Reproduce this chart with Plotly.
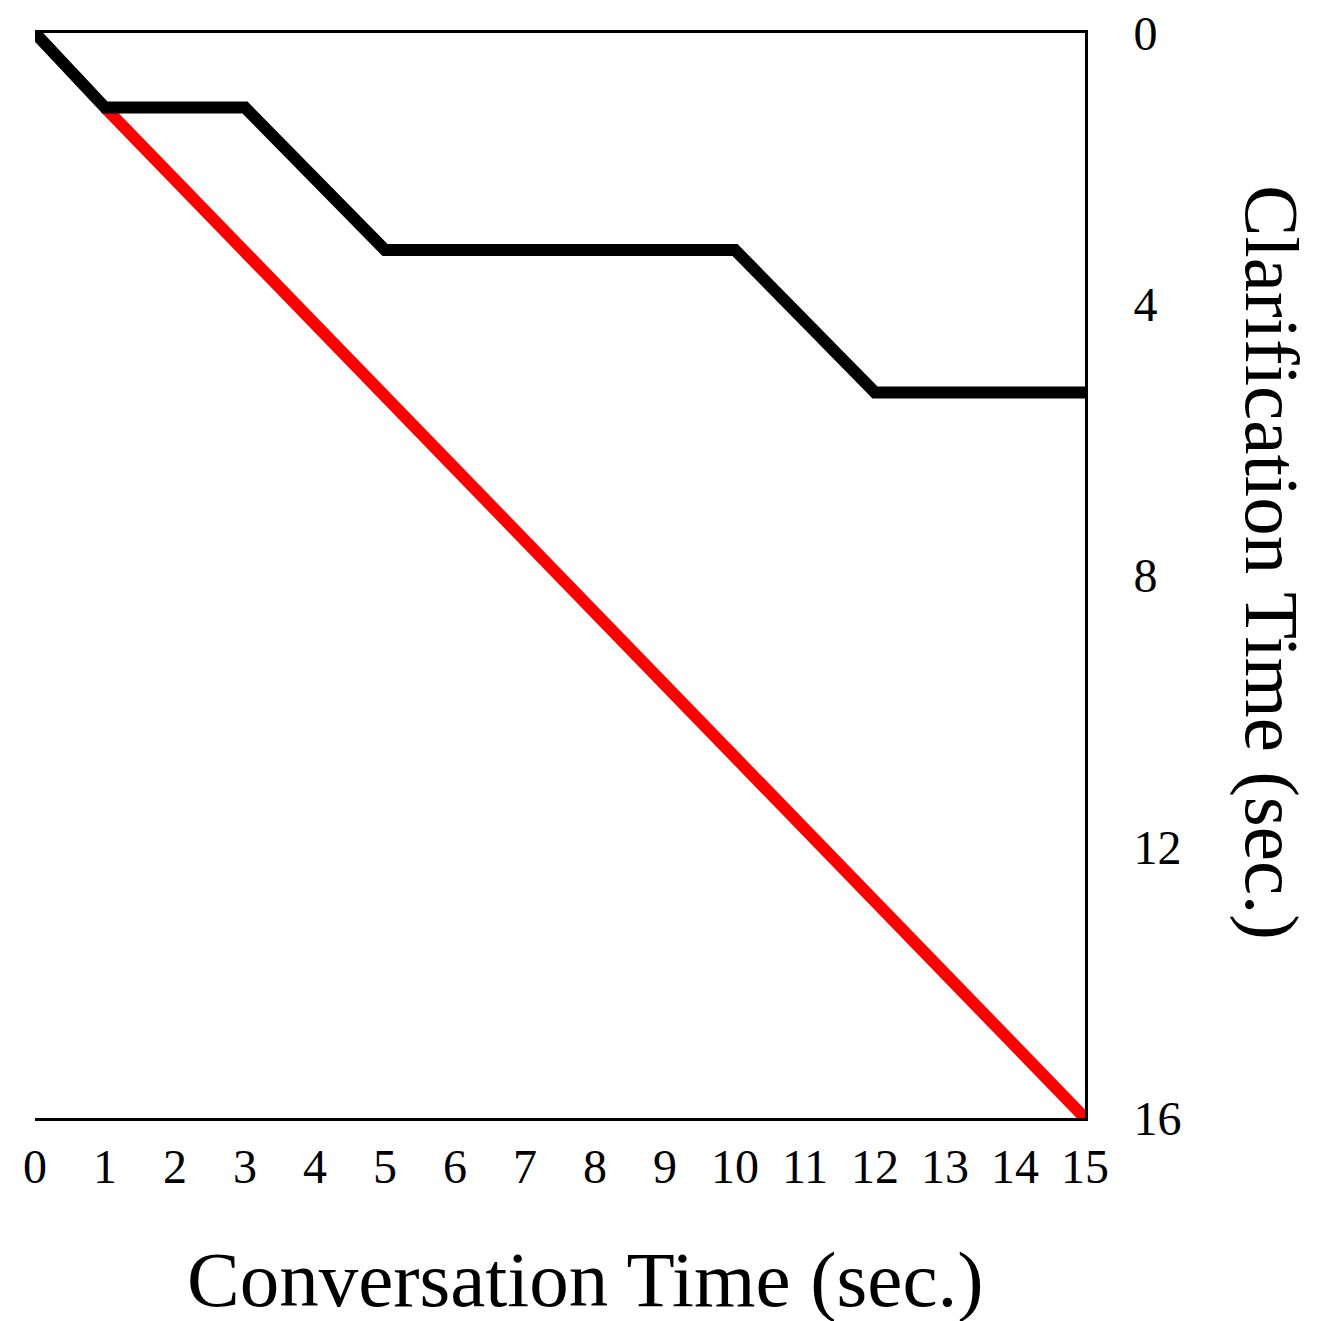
import plotly.graph_objects as go

# Data
black_x = [0, 1, 3, 5, 10, 12, 15]
black_y = [0, 1.1, 1.1, 3.2, 3.2, 5.3, 5.3]
red_x = [1, 15]
red_y = [1.1, 16]

x_ticks = list(range(0, 16))
y_ticks = [0, 4, 8, 12, 16]

FONT = "Liberation Serif"

fig = go.Figure()
fig.add_trace(go.Scatter(x=red_x, y=red_y, mode="lines",
                         line=dict(color="#ff0000", width=12),
                         cliponaxis=False, showlegend=False))
fig.add_trace(go.Scatter(x=black_x, y=black_y, mode="lines",
                         line=dict(color="#000000", width=12),
                         cliponaxis=False, showlegend=False))

fig.update_layout(
    width=1306, height=1316,
    margin=dict(l=27, r=229, t=25, b=206),
    paper_bgcolor="white", plot_bgcolor="white",
    font=dict(family=FONT, color="black"),
    xaxis=dict(range=[0, 15], tickvals=x_ticks, ticktext=[str(v) for v in x_ticks],
               showgrid=False, zeroline=False, showline=True, linecolor="black",
               linewidth=3, mirror=True, ticks="", ticklabelstandoff=4,
               ticklabeloverflow="allow", automargin=False,
               tickfont=dict(family=FONT, size=48, color="black")),
    yaxis=dict(range=[16, 0], tickvals=y_ticks, ticktext=[str(v) for v in y_ticks],
               side="right", showgrid=False, zeroline=False, showline=True,
               linecolor="black", linewidth=3, ticks="", ticklabelstandoff=36,
               ticklabeloverflow="allow", automargin=False,
               tickfont=dict(family=FONT, size=48, color="black")),
    annotations=[
        dict(text="Conversation Time (sec.)", xref="paper", yref="paper",
             x=0.524, y=-0.1484, showarrow=False, xanchor="center", yanchor="middle",
             font=dict(family=FONT, size=79, color="black")),
        dict(text="Clarification Time (sec.)", xref="paper", yref="paper",
             x=1.178, y=0.5115, showarrow=False, xanchor="center", yanchor="middle",
             textangle=90, font=dict(family=FONT, size=77, color="black")),
    ],
)

fig.write_html("out.html")
